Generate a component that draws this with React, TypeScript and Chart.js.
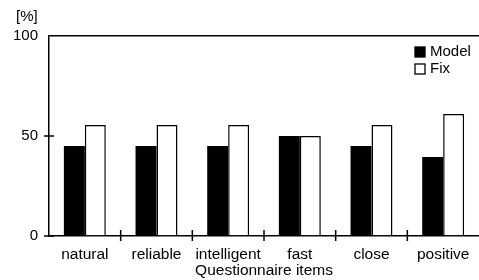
import React, { useEffect, useRef } from "react";
import { Chart, registerables } from "chart.js";

Chart.register(...registerables);

const categories = ["natural", "reliable", "intelligent", "fast", "close", "positive"];
const modelValues = [45, 45, 45, 50, 45, 39.5];
const fixValues = [55.5, 55.5, 55.5, 50, 55.5, 61];
const yTicks = [0, 50, 100];
const seriesNames = ["Model", "Fix"];
const yUnit = "[%]";
const xTitle = "Questionnaire items";

const FONT = "'Liberation Sans', Arial, Helvetica, sans-serif";

const decorPlugin = {
  id: "decor",
  afterDraw(chart: any) {
    const ctx = chart.ctx;
    const x = chart.scales.x;
    const y = chart.scales.y;
    const area = chart.chartArea;
    ctx.save();
    ctx.strokeStyle = "#000";
    ctx.lineWidth = 1.5;
    // crossing ticks on x axis at category boundaries
    for (let i = 1; i < categories.length; i++) {
      const px = (x.getPixelForValue(i - 1) + x.getPixelForValue(i)) / 2;
      ctx.beginPath();
      ctx.moveTo(px, area.bottom - 6);
      ctx.lineTo(px, area.bottom + 5);
      ctx.stroke();
    }
    // crossing ticks on y axis
    yTicks.forEach((v) => {
      if (v === 100) return;
      const py = y.getPixelForValue(v);
      ctx.beginPath();
      ctx.moveTo(area.left - 5, py);
      ctx.lineTo(area.left + 5, py);
      ctx.stroke();
    });
    // unit label
    ctx.fillStyle = "#000";
    ctx.font = `15px ${FONT}`;
    ctx.textAlign = "left";
    ctx.textBaseline = "middle";
    ctx.fillText(yUnit, 16, 17);
    // legend
    const lx = 415;
    const ly = 47;
    chart.data.datasets.forEach((ds: any, i: number) => {
      const top = ly + i * 17;
      ctx.fillStyle = ds.backgroundColor;
      ctx.fillRect(lx, top, 10, 10);
      ctx.lineWidth = 1.3;
      ctx.strokeStyle = "#000";
      ctx.strokeRect(lx, top, 10, 10);
      ctx.fillStyle = "#000";
      ctx.fillText(ds.label, lx + 15, top + 5);
    });
    ctx.restore();
  },
};

export default function App() {
  const ref = useRef<HTMLCanvasElement>(null);
  useEffect(() => {
    const chart = new Chart(ref.current as HTMLCanvasElement, {
      type: "bar",
      data: {
        labels: categories,
        datasets: [
          {
            label: seriesNames[0],
            data: modelValues,
            backgroundColor: "#000",
            borderWidth: 0,
            categoryPercentage: 0.585,
            barPercentage: 1,
          },
          {
            label: seriesNames[1],
            data: fixValues,
            backgroundColor: "#fff",
            borderColor: "#000",
            borderWidth: 1.5,
            categoryPercentage: 0.585,
            barPercentage: 1,
          },
        ],
      },
      options: {
        animation: false,
        responsive: false,
        layout: { padding: { top: 36, right: -2, bottom: 0, left: 0 } },
        plugins: { legend: { display: false }, tooltip: { enabled: false } },
        scales: {
          x: {
            grid: { display: false, drawTicks: false },
            border: { display: true, color: "#000", width: 1.5 },
            ticks: { color: "#000", font: { family: FONT, size: 15.5 }, padding: 9, maxRotation: 0, autoSkip: false },
            title: {
              display: true,
              text: xTitle,
              color: "#000",
              font: { family: FONT, size: 15.5 },
              padding: { top: 2, bottom: 0 },
            },
            afterFit(scale: any) {
              scale.height = 44;
            },
          },
          y: {
            min: 0,
            max: 100,
            afterBuildTicks(scale: any) {
              scale.ticks = yTicks.map((v) => ({ value: v }));
            },
            grid: {
              drawTicks: false,
              color: (c: any) => (c.tick && c.tick.value === 100 ? "#000" : "rgba(0,0,0,0)"),
              lineWidth: 1.5,
            },
            border: { display: true, color: "#000", width: 1.5 },
            ticks: { color: "#000", font: { family: FONT, size: 15 }, padding: 11 },
            afterFit(scale: any) {
              scale.width = 49;
            },
          },
        },
      },
      plugins: [decorPlugin],
    });
    return () => chart.destroy();
  }, []);
  return (
    <div style={{ position: "absolute", left: 0, top: 0, width: 479, height: 280, background: "#fff" }}>
      <canvas ref={ref} width={479} height={280} style={{ display: "block" }} />
    </div>
  );
}
